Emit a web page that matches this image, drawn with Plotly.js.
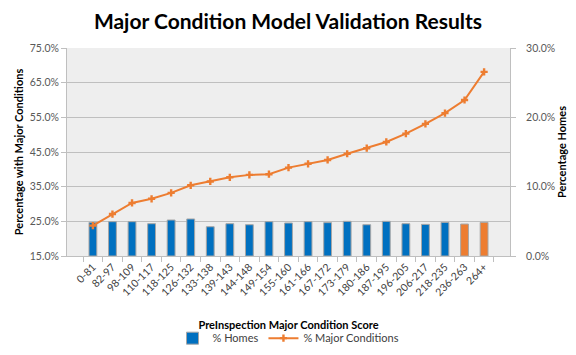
<!DOCTYPE html>
<html>
<head>
<meta charset="utf-8">
<script src="https://cdn.plot.ly/plotly-3.0.1.min.js"></script>
<style>html,body{margin:0;padding:0;background:#fff}#chart{width:576px;height:355px}</style>
</head>
<body>
<div id="chart"></div>
<script>
const categories = ["0-81","82-97","98-109","110-117","118-125","126-132","133-138","139-143","144-148","149-154","155-160","161-166","167-172","173-179","180-186","187-195","196-205","206-217","218-235","236-263","264+"];
const pctHomes = [0.0485,0.0495,0.0495,0.0466,0.0519,0.0534,0.0422,0.0466,0.0451,0.0495,0.0476,0.0495,0.0481,0.0500,0.0451,0.0500,0.0466,0.0456,0.0485,0.0461,0.0485];
const pctMajor = [0.2375,0.271,0.303,0.315,0.332,0.354,0.365,0.377,0.384,0.386,0.405,0.416,0.427,0.445,0.461,0.479,0.503,0.531,0.562,0.600,0.681];
const barColors = categories.map((c,i)=> i >= categories.length-2 ? "#ED7D31" : "#0070C0");

const font = "Lato, 'Open Sans', sans-serif";
const data = [
  {type:"bar", name:"% Homes", x:categories, y:pctHomes, yaxis:"y",
   marker:{color:barColors, line:{color:"#a6a6a6", width:1}}, width:0.4,
   hovertemplate:"%{x}: %{y:.1%}<extra></extra>"},
  {type:"scatter", mode:"lines+markers", name:"% Major Conditions", x:categories, y:pctMajor, yaxis:"y2",
   line:{color:"#ED7D31", width:2}, marker:{symbol:"cross", size:6, color:"#ED7D31"},
   hovertemplate:"%{x}: %{y:.1%}<extra></extra>"}
];
const tickFont = {family:font, size:10.5, color:"#595959"};
const layout = {
  width:576, height:355,
  margin:{l:67, r:66, t:48, b:99, autoexpand:false},
  paper_bgcolor:"#ffffff", plot_bgcolor:"#eeeeee",
  font:{family:font},
  title:{text:"<b>Major Condition Model Validation Results</b>", x:0.5, xanchor:"center", y:0.94, yanchor:"middle",
         font:{family:font, size:21, color:"#000"}},
  showlegend:true,
  legend:{orientation:"h", x:0.5, xanchor:"center", y:-0.395, yanchor:"middle", itemwidth:30,
          font:{family:font, size:11, color:"#404040"}, bgcolor:"rgba(0,0,0,0)"},
  xaxis:{type:"category", tickangle:-45, tickfont:{family:font, size:10.5, color:"#404040"}, automargin:false,
         tickson:"boundaries", ticks:"outside", ticklen:5, tickcolor:"#bfbfbf",
         showline:true, linecolor:"#bfbfbf", showgrid:false,
         title:{text:"<b>PreInspection Major Condition Score</b>", font:{family:font, size:11, color:"#000"}, standoff:24}},
  yaxis:{side:"right", range:[0,0.3], dtick:0.1, tick0:0, tickformat:".1%", showgrid:false, zeroline:false, automargin:false,
         ticks:"outside", ticklen:5, tickcolor:"#bfbfbf", showline:true, linecolor:"#bfbfbf", tickfont:tickFont, ticklabelstandoff:8,
         title:{text:"<b>Percentage Homes</b>", font:{family:font, size:11, color:"#000"}, standoff:0}},
  yaxis2:{overlaying:"y", side:"left", range:[0.15,0.75], dtick:0.1, tick0:0.15, tickformat:".1%", showgrid:true, gridcolor:"#bfbfbf", gridwidth:1,
          zeroline:false, automargin:false, ticks:"outside", ticklen:5, tickcolor:"#bfbfbf", showline:true, linecolor:"#bfbfbf", tickfont:tickFont,
          title:{text:"<b>Percentage with Major Conditions</b>", font:{family:font, size:11, color:"#000"}, standoff:3}}
};
Plotly.newPlot("chart", data, layout, {displayModeBar:false, responsive:false});
</script>
</body>
</html>
